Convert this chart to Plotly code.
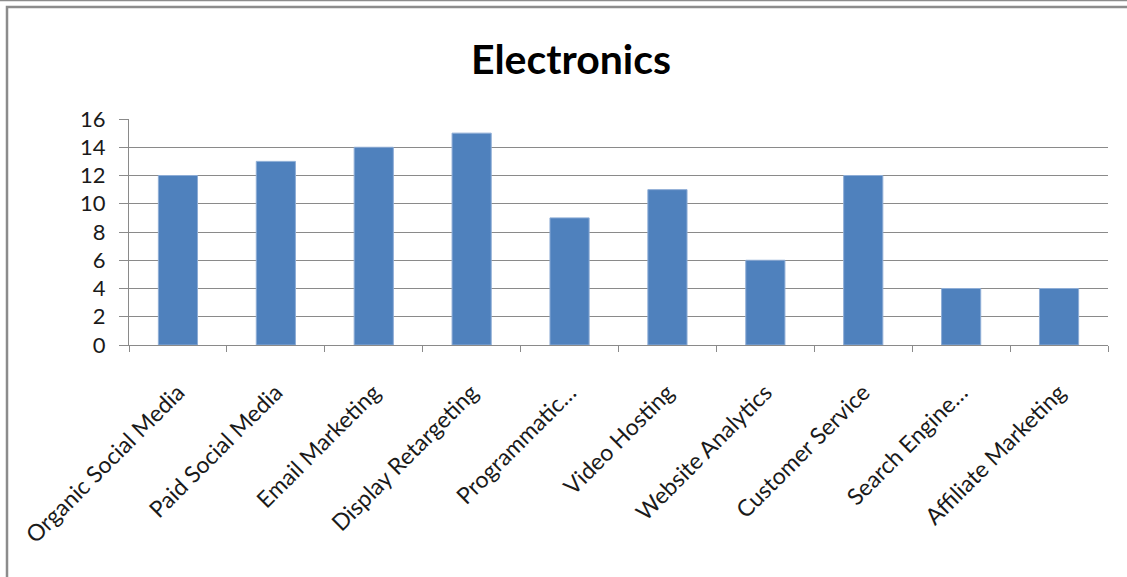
import plotly.graph_objects as go

categories = ["Organic Social Media", "Paid Social Media", "Email Marketing",
              "Display Retargeting", "Programmatic…", "Video Hosting",
              "Website Analytics", "Customer Service", "Search Engine…",
              "Affiliate Marketing"]
values = [12, 13, 14, 15, 9, 11, 6, 12, 4, 4]
title_text = "Electronics"

W, H = 1127, 577
L, R, T, B = 129, 19, 119, 232
pw, ph = W - L - R, H - T - B

def px_x(px):
    return (px - L) / pw

def px_y(py):
    return (H - B - py) / ph

fig = go.Figure()
fig.add_trace(go.Bar(
    x=categories, y=values,
    marker=dict(color="#4F81BD", line=dict(color="#8EADD6", width=1)),
))

grid = "#8a8a8a"
fig.update_layout(
    width=W, height=H,
    margin=dict(l=L, r=R, t=T, b=B),
    paper_bgcolor="white", plot_bgcolor="white",
    font=dict(family="Lato", color="#1a1a1a"),
    title=dict(text="<b>" + title_text + "</b>", x=571 / W, xanchor="center",
               y=1 - 60 / H, yanchor="middle", yref="container",
               font=dict(size=41, color="black")),
    bargap=0.6,
    showlegend=False,
    xaxis=dict(tickangle=-45, showline=True, linecolor=grid, linewidth=1,
               ticks="outside", tickson="boundaries", ticklen=6, tickcolor=grid,
               tickfont=dict(size=23), showgrid=False, ticklabelstandoff=24),
    yaxis=dict(range=[0, 16], dtick=2, showgrid=True, gridcolor=grid, gridwidth=1,
               showline=True, linecolor=grid, ticks="outside", ticklen=9,
               tickcolor=grid, tickfont=dict(size=22), zeroline=False,
               ticklabelstandoff=9),
    shapes=[
        dict(type="rect", xref="paper", yref="paper",
             x0=px_x(7), x1=px_x(1140), y0=px_y(7), y1=px_y(590),
             line=dict(color="#8c8c8c", width=2.5), layer="below"),
        dict(type="line", xref="paper", yref="paper",
             x0=px_x(0), x1=px_x(1127), y0=px_y(0.5), y1=px_y(0.5),
             line=dict(color="#8c8c8c", width=1.5)),
    ],
)

fig.write_html("out.html")
